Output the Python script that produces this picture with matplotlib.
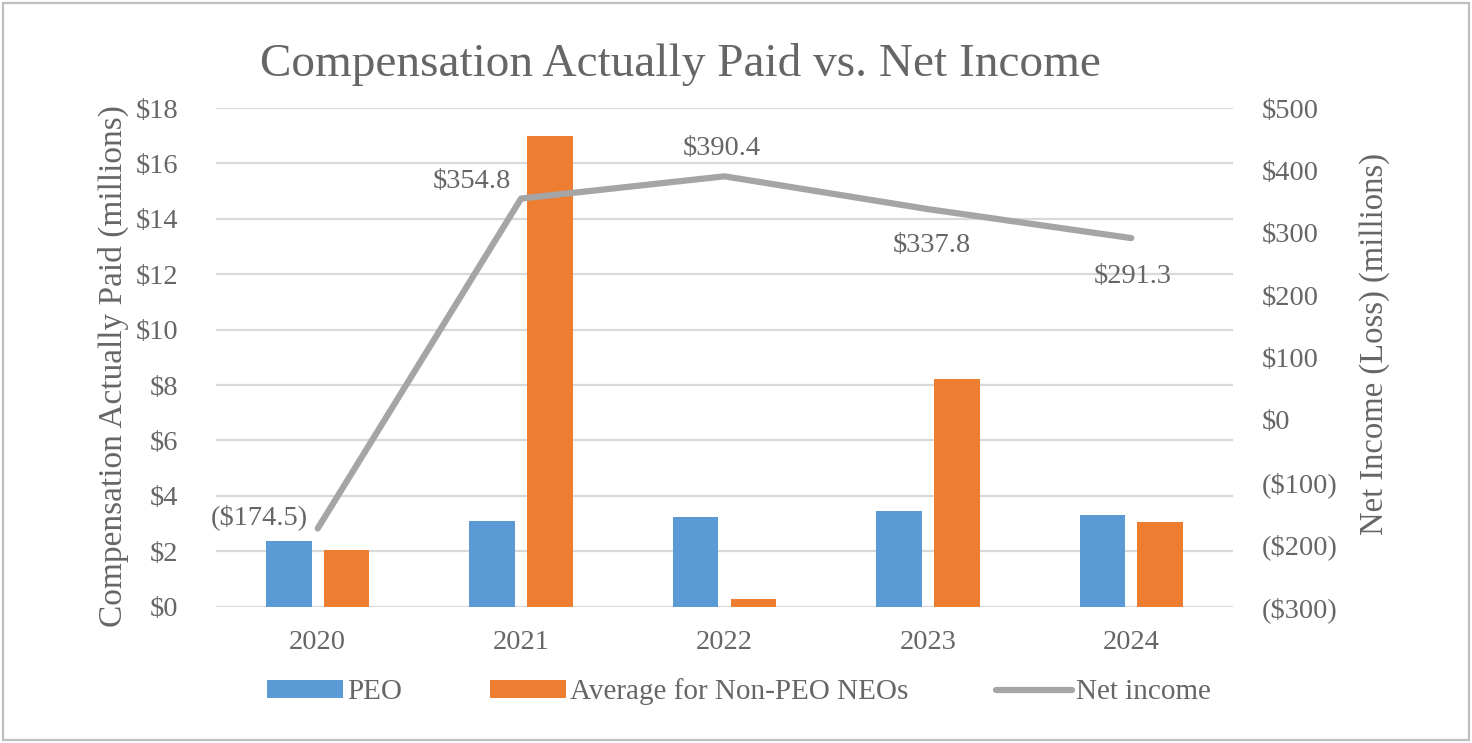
import matplotlib
matplotlib.use("Agg")
import matplotlib.pyplot as plt
from matplotlib.patches import Rectangle
import numpy as np

plt.rcParams['font.family'] = ['Liberation Serif', 'DejaVu Serif']

years = ["2020", "2021", "2022", "2023", "2024"]
peo = [2.38, 3.10, 3.23, 3.46, 3.32]
non_peo = [2.05, 17.0, 0.29, 8.22, 3.07]
net_income = [-174.5, 354.8, 390.4, 337.8, 291.3]
net_labels = ["($174.5)", "$354.8", "$390.4", "$337.8", "$291.3"]
left_ticks = list(range(0, 19, 2))
right_ticks = list(range(-300, 501, 100))

TXT = '#666666'
BLUE = '#5b9bd5'
ORANGE = '#ed7d31'
GRAY = '#a5a5a5'
GRID = '#d9d9d9'

W, H = 1472, 743
fig = plt.figure(figsize=(W / 100, H / 100), dpi=100)
ax = fig.add_axes([216 / W, 1 - 606.7 / H, (1233 - 216) / W, (606.7 - 108) / H])

x = np.arange(len(years))
bw = 0.224
off = 0.142
ax.bar(x - off, peo, bw, color=BLUE, label="PEO", zorder=3)
ax.bar(x + off, non_peo, bw, color=ORANGE, label="Average for Non-PEO NEOs", zorder=3)

ax.set_xlim(-0.5, len(years) - 0.5)
ax.set_ylim(0, 18)
ax.set_yticks(left_ticks)
ax.set_yticklabels([f"${v}" for v in left_ticks])
ax.set_xticks(x)
ax.set_xticklabels(years)
ax.grid(axis='y', color=GRID, linewidth=1.6, zorder=0)
ax.set_axisbelow(True)
for s in ax.spines.values():
    s.set_visible(False)
ax.tick_params(axis='y', length=0, pad=27, labelsize=20.5, labelcolor=TXT)
ax.tick_params(axis='x', length=0, pad=17, labelsize=20.5, labelcolor=TXT)

ax2 = ax.twinx()
ax2.set_ylim(-300, 500)
ax2.set_yticks(right_ticks)
ax2.set_yticklabels([f"(${-v})" if v < 0 else f"${v}" for v in right_ticks])
for s in ax2.spines.values():
    s.set_visible(False)
ax2.tick_params(axis='y', length=0, pad=21, labelsize=20.5, labelcolor=TXT)
ln, = ax2.plot(x, net_income, color=GRAY, linewidth=4.5, solid_capstyle='round',
               solid_joinstyle='round', label="Net income", zorder=4)

offsets = [(-7, 8, 'right'), (-7, 12, 'right'), (-2, 20, 'center'), (3, -26, 'center'), (1, -28, 'center')]
for xi, yi, lab, (dx, dy, ha) in zip(x, net_income, net_labels, offsets):
    ax2.annotate(lab, (xi, yi), xytext=(dx, dy), textcoords='offset points',
                 ha=ha, va='center', fontsize=20.5, color=TXT)

fig.text(680.5 / W, 1 - 65 / H, "Compensation Actually Paid vs. Net Income",
         ha='center', va='center', fontsize=34, color=TXT)
fig.text(113 / W, 1 - 366 / H, "Compensation Actually Paid (millions)",
         ha='center', va='center', rotation=90, fontsize=24, color=TXT)
fig.text(1375 / W, 1 - 344 / H, "Net Income (Loss) (millions)",
         ha='center', va='center', rotation=90, fontsize=23.5, color=TXT)

h1, l1 = ax.get_legend_handles_labels()
leg = fig.legend(h1 + [ln], l1 + ["Net income"], loc='center',
                 bbox_to_anchor=(739 / W, 1 - 692 / H), ncol=3, frameon=False,
                 fontsize=21, handlelength=2.6, handleheight=0.55,
                 handletextpad=0.15, columnspacing=3.0)
for t in leg.get_texts():
    t.set_color(TXT)

fig.patches.append(Rectangle((3 / W, 3 / H), (W - 6) / W, (H - 6) / H,
                             transform=fig.transFigure, fill=False,
                             edgecolor='#bfbfbf', linewidth=1.6))

fig.savefig("out.png", dpi=100)
